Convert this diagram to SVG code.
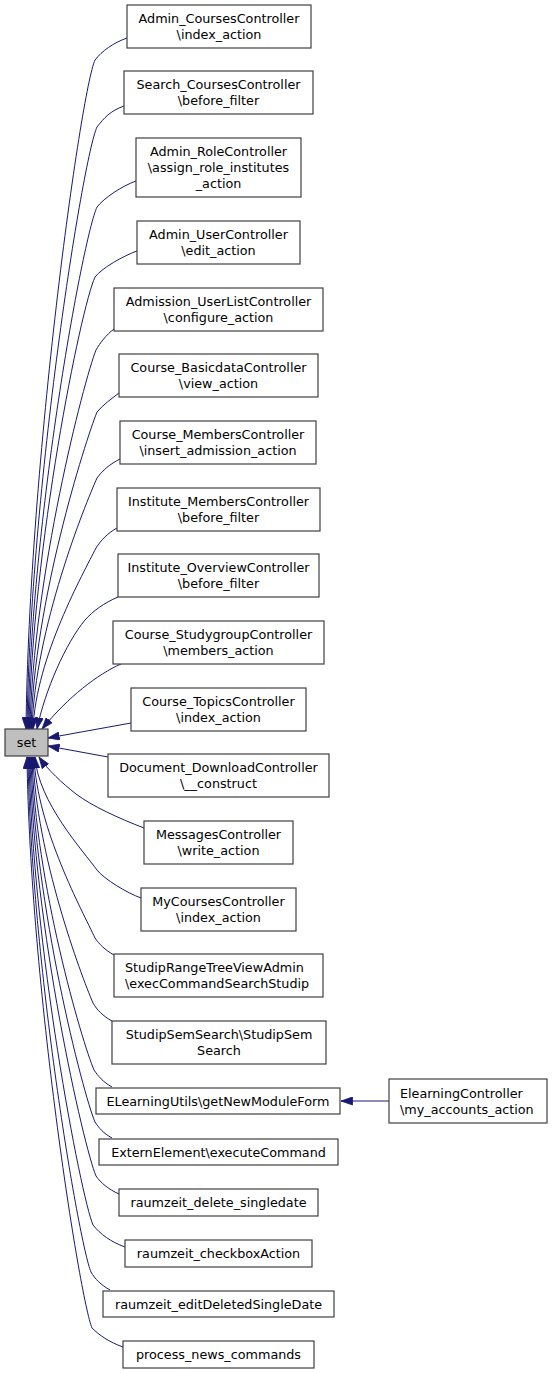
<svg xmlns="http://www.w3.org/2000/svg" width="552" height="1373" viewBox="0 0 552 1373">
<style>
.n rect{fill:#ffffff;stroke:#404040;stroke-width:1.2}
.n text{font-family:"DejaVu Sans",sans-serif;font-size:12.75px;fill:#000000;text-anchor:middle}
.n text.l{text-anchor:start}
#set rect{fill:#bfbfbf}
.e path{fill:none;stroke:#191970;stroke-width:1}
</style>
<defs>
<marker id="ah" markerUnits="userSpaceOnUse" markerWidth="12" markerHeight="9" viewBox="0 0 12 9" refX="11.5" refY="4.5" orient="auto">
<path d="M0,0.5 L11.5,4.5 L0,8.5 z" fill="#191970" stroke="#191970" stroke-width="0.8"/>
</marker>
</defs>
<rect width="552" height="1373" fill="#ffffff"/>
<g class="e" id="edges" marker-end="url(#ah)">
<path marker-end="url(#ah)" d="M127,38 C113,43 102,51 95,60 C81,90 29,461 26,729"/>
<path marker-end="url(#ah)" d="M124,106 C110,111 104,118 97,127 C83,157 30,488 27,729"/>
<path marker-end="url(#ah)" d="M136,181 C122,186 104,198 97,207 C83,237 31,520 28,729"/>
<path marker-end="url(#ah)" d="M137,251 C123,256 102,268 95,277 C81,307 32,548 29,729"/>
<path marker-end="url(#ah)" d="M114,329 C106,335 100,343 96,350 C84,380 33,577 30,729"/>
<path marker-end="url(#ah)" d="M119,393 C111,399 103,405 97,412 C85,442 34,602 31,729"/>
<path marker-end="url(#ah)" d="M120,459 C110,464 103,470 97,478 C85,505 35,628 32,729"/>
<path marker-end="url(#ah)" d="M117,528 C108,533 101,540 96,548 C84,572 36,657 33,729"/>
<path marker-end="url(#ah)" d="M118,597 C104,603 93,611 85,620 C66,643 45,690 37,729"/>
<path marker-end="url(#ah)" d="M121,664 C98,674 68,697 42,729"/>
<path marker-end="url(#ah)" d="M131,723 L48,738"/>
<path marker-end="url(#ah)" d="M108,757 L48,746"/>
<path marker-end="url(#ah)" d="M144,828 C118,818 92,806 76,794 C62,783 48,770 39,757"/>
<path marker-end="url(#ah)" d="M141,898 C127,893 104,879 97,870 C84,852 38,802 35,757"/>
<path marker-end="url(#ah)" d="M114,955 C105,950 99,944 95,938 C83,912 37,829 34,757"/>
<path marker-end="url(#ah)" d="M112,1021 C103,1016 97,1010 93,1003 C81,975 36,855 33,757"/>
<path marker-end="url(#ah)" d="M112,1087 C103,1082 98,1076 94,1070 C82,1042 35,882 32,757"/>
<path marker-end="url(#ah)" d="M112,1138 C103,1133 99,1128 95,1122 C83,1094 34,903 31,757"/>
<path marker-end="url(#ah)" d="M119,1194 C108,1189 101,1183 96,1176 C84,1148 33,925 30,757"/>
<path marker-end="url(#ah)" d="M125,1247 C111,1242 100,1234 93,1225 C81,1197 32,944 29,757"/>
<path marker-end="url(#ah)" d="M110,1290 C101,1285 95,1279 91,1272 C79,1244 31,963 28,757"/>
<path marker-end="url(#ah)" d="M123,1347 C109,1342 99,1335 92,1328 C80,1300 30,985 27,757"/>
<path marker-end="url(#ah)" d="M389,1101 L341,1101"/>
</g>
<g class="n" id="set"><rect x="5" y="729" width="43" height="27"/><text x="26.5" y="747.1">set</text></g>
<g class="n" id="n1"><rect x="127" y="5" width="184" height="43"/><text x="219" y="23.1">Admin_CoursesController</text><text x="219" y="39.1">\index_action</text></g>
<g class="n" id="n2"><rect x="124" y="71" width="189" height="43"/><text x="218.5" y="89.1">Search_CoursesController</text><text x="218.5" y="105.1">\before_filter</text></g>
<g class="n" id="n3"><rect x="136" y="138" width="165" height="59"/><text x="218.5" y="156.1">Admin_RoleController</text><text x="218.5" y="172.1">\assign_role_institutes</text><text x="218.5" y="188.1">_action</text></g>
<g class="n" id="n4"><rect x="137" y="221" width="163" height="43"/><text x="218.5" y="239.1">Admin_UserController</text><text x="218.5" y="255.1">\edit_action</text></g>
<g class="n" id="n5"><rect x="114" y="288" width="209" height="43"/><text x="218.5" y="306.1">Admission_UserListController</text><text x="218.5" y="322.1">\configure_action</text></g>
<g class="n" id="n6"><rect x="119" y="354" width="199" height="43"/><text x="218.5" y="372.1">Course_BasicdataController</text><text x="218.5" y="388.1">\view_action</text></g>
<g class="n" id="n7"><rect x="120" y="421" width="196" height="43"/><text x="218" y="439.1">Course_MembersController</text><text x="218" y="455.1">\insert_admission_action</text></g>
<g class="n" id="n8"><rect x="117" y="488" width="203" height="43"/><text x="218.5" y="506.1">Institute_MembersController</text><text x="218.5" y="522.1">\before_filter</text></g>
<g class="n" id="n9"><rect x="118" y="554" width="201" height="43"/><text x="218.5" y="572.1">Institute_OverviewController</text><text x="218.5" y="588.1">\before_filter</text></g>
<g class="n" id="n10"><rect x="113" y="621" width="211" height="43"/><text x="218.5" y="639.1">Course_StudygroupController</text><text x="218.5" y="655.1">\members_action</text></g>
<g class="n" id="n11"><rect x="131" y="688" width="175" height="43"/><text x="218.5" y="706.1">Course_TopicsController</text><text x="218.5" y="722.1">\index_action</text></g>
<g class="n" id="n12"><rect x="108" y="754" width="221" height="43"/><text x="218.5" y="772.1">Document_DownloadController</text><text x="218.5" y="788.1">\__construct</text></g>
<g class="n" id="n13"><rect x="144" y="821" width="149" height="43"/><text x="218.5" y="839.1">MessagesController</text><text x="218.5" y="855.1">\write_action</text></g>
<g class="n" id="n14"><rect x="141" y="888" width="155" height="43"/><text x="218.5" y="906.1">MyCoursesController</text><text x="218.5" y="922.1">\index_action</text></g>
<g class="n" id="n15"><rect x="114" y="954" width="209" height="43"/><text class="l" x="125" y="972.1">StudipRangeTreeViewAdmin</text><text class="l" x="125" y="988.1">\execCommandSearchStudip</text></g>
<g class="n" id="n16"><rect x="112" y="1021" width="214" height="43"/><text x="219" y="1039.1">StudipSemSearch\StudipSem</text><text x="219" y="1055.1">Search</text></g>
<g class="n" id="n17"><rect x="96" y="1088" width="244" height="26"/><text x="218" y="1105.6">ELearningUtils\getNewModuleForm</text></g>
<g class="n" id="n23"><rect x="389" y="1079" width="158" height="44"/><text class="l" x="400" y="1097.6">ElearningController</text><text class="l" x="400" y="1113.6">\my_accounts_action</text></g>
<g class="n" id="n18"><rect x="99" y="1139" width="239" height="26"/><text x="218.5" y="1156.6">ExternElement\executeCommand</text></g>
<g class="n" id="n19"><rect x="119" y="1189" width="199" height="27"/><text x="218.5" y="1207.1">raumzeit_delete_singledate</text></g>
<g class="n" id="n20"><rect x="125" y="1240" width="187" height="27"/><text x="218.5" y="1258.1">raumzeit_checkboxAction</text></g>
<g class="n" id="n21"><rect x="103" y="1291" width="231" height="26"/><text x="218.5" y="1308.6">raumzeit_editDeletedSingleDate</text></g>
<g class="n" id="n22"><rect x="123" y="1341" width="191" height="27"/><text x="218.5" y="1359.1">process_news_commands</text></g>
</svg>
